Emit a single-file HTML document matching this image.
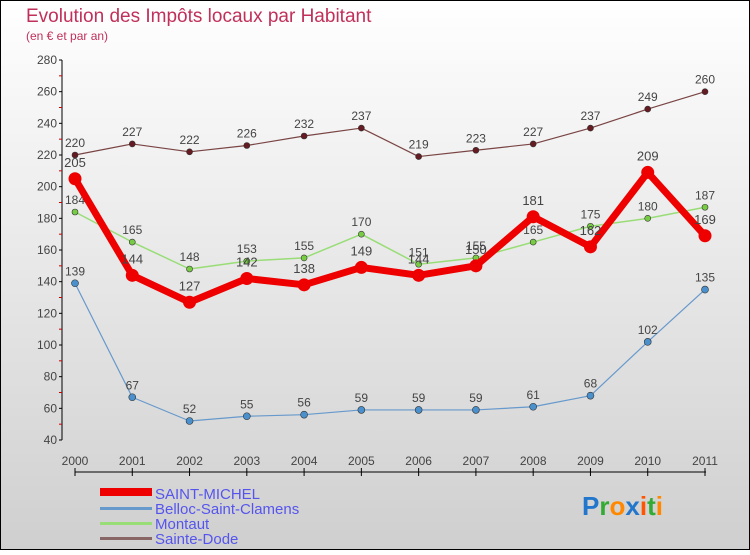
<!DOCTYPE html>
<html><head><meta charset="utf-8"><style>
body{margin:0;width:750px;height:550px;overflow:hidden;font-family:"Liberation Sans",sans-serif}
</style></head><body>
<svg id="c" width="750" height="550" xmlns="http://www.w3.org/2000/svg">
<defs><linearGradient id="bg" x1="0" y1="0" x2="0" y2="1"><stop offset="0" stop-color="#ffffff"/><stop offset="1" stop-color="#cfcfcf"/></linearGradient></defs>
<rect x="0.5" y="0.5" width="749" height="549" fill="url(#bg)" stroke="#000"/>
<text x="26" y="22" font-size="19" fill="#c0305a">Evolution des Impôts locaux par Habitant</text>
<text x="26" y="40" font-size="12" fill="#c0305a">(en € et par an)</text>
<g id="g"></g>
<g>
<rect x="100" y="488" width="52" height="8" fill="#ee0000"/>
<text x="155" y="499" font-size="15" fill="#5555ee">SAINT-MICHEL</text>
<rect x="100" y="507" width="52" height="3" fill="#6699cc"/>
<text x="155" y="514" font-size="15" fill="#5555ee">Belloc-Saint-Clamens</text>
<rect x="100" y="522" width="52" height="3" fill="#99dd77"/>
<text x="155" y="529" font-size="15" fill="#5555ee">Montaut</text>
<rect x="100" y="537" width="52" height="3" fill="#886666"/>
<text x="155" y="544" font-size="15" fill="#5555ee">Sainte-Dode</text>
</g>
<text x="582" y="515" font-size="26" font-weight="bold"><tspan fill="#2277cc">P</tspan><tspan fill="#33aa33">r</tspan><tspan fill="#ff8800">o</tspan><tspan fill="#2277cc">x</tspan><tspan fill="#ff5500">i</tspan><tspan fill="#33aa33">t</tspan><tspan fill="#ff8800">i</tspan></text>
</svg>
<script>
const years=["2000","2001","2002","2003","2004","2005","2006","2007","2008","2009","2010","2011"];
const yTicks=[40,60,80,100,120,140,160,180,200,220,240,260,280];
const saintMichel=[205,144,127,142,138,149,144,150,181,162,209,169];
const belloc=[139,67,52,55,56,59,59,59,61,68,102,135];
const montaut=[184,165,148,153,155,170,151,155,165,175,180,187];
const sainteDode=[220,227,222,226,232,237,219,223,227,237,249,260];
const NS="http://www.w3.org/2000/svg";
const g=document.getElementById('g');
const xs=i=>75+i*(630/11);
const ys=v=>440-(v-40)*(380/240);
function mk(t,a){const e=document.createElementNS(NS,t);for(const k in a)e.setAttribute(k,a[k]);g.appendChild(e);return e;}
let ax=mk('line',{x1:62,y1:60,x2:62,y2:440,stroke:'#000'});


yTicks.forEach(v=>{
 mk('line',{x1:59,y1:ys(v),x2:62,y2:ys(v),stroke:'#000'});
 if(v<280){let m=mk('line',{x1:59,y1:ys(v+10),x2:62,y2:ys(v+10),stroke:'#c00'});}
 const t=mk('text',{x:57,y:ys(v)+4,'font-size':12,fill:'#444','text-anchor':'end'});t.textContent=v;
 
 
});
let xa=mk('line',{x1:75,y1:472,x2:706,y2:472,stroke:'#000'});


years.forEach((y,i)=>{
 mk('line',{x1:xs(i),y1:468,x2:xs(i),y2:476,stroke:'#000'});
 const t=mk('text',{x:xs(i),y:465,'font-size':12,fill:'#444','text-anchor':'middle'});t.textContent=y;
 
 
});
function series(d,name,col,w,r,fill,fs,off){
 const p=mk('polyline',{points:d.map((v,i)=>xs(i)+','+ys(v)).join(' '),fill:'none',stroke:col,'stroke-width':w,'stroke-linejoin':'round'});
 
 
 d.forEach((v,i)=>{
  const c=mk('circle',{cx:xs(i),cy:ys(v),r:r,fill:fill,stroke:'#333','stroke-width':r>5?0:0.6});
  
  
  const t=mk('text',{x:xs(i),y:ys(v)+off,'font-size':fs,fill:'#444','text-anchor':'middle'});t.textContent=v;
  
  
 });
}
series(sainteDode,'sainte-dode','#7a4444',1.2,3,'#661a22',12,-8);
series(montaut,'montaut','#99dd77',1.5,3,'#77cc44',12,-8);
series(belloc,'belloc','#6699cc',1.2,3.5,'#4a90cc',12,-8);
series(saintMichel,'saint-michel','#ee0000',7,6.5,'#ee0000',13,-12);
</script>
</body></html>
